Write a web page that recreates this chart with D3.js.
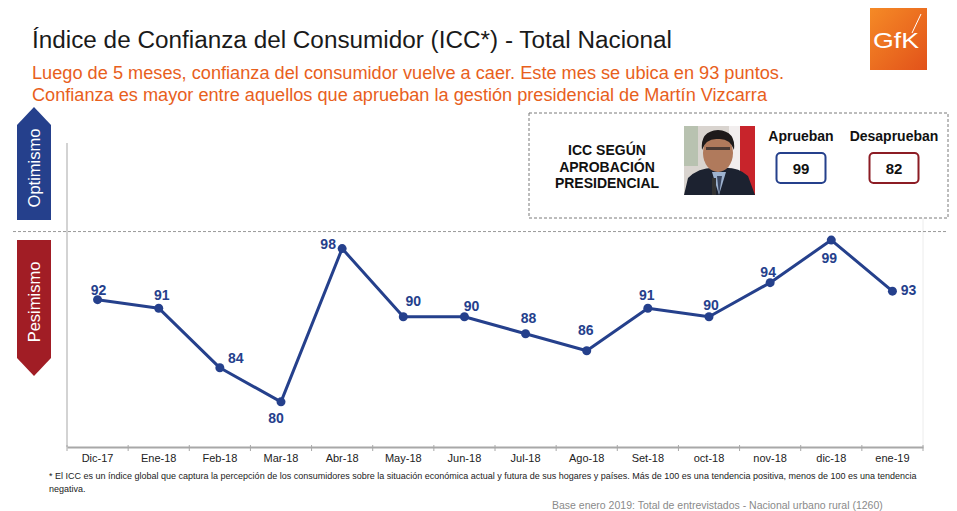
<!DOCTYPE html>
<html>
<head>
<meta charset="utf-8">
<script src="https://cdn.jsdelivr.net/npm/d3@7"></script>
<style>
  body { margin: 0; background: #fff; }
  svg { font-family: "Liberation Sans", Arial, sans-serif; }
</style>
</head>
<body>
<svg id="chart" width="957" height="511"></svg>
<script>
// Daten
const meses = ["Dic-17", "Ene-18", "Feb-18", "Mar-18", "Abr-18", "May-18", "Jun-18",
               "Jul-18", "Ago-18", "Set-18", "oct-18", "nov-18", "dic-18", "ene-19"];
const icc = [92, 91, 84, 80, 98, 90, 90, 88, 86, 91, 90, 94, 99, 93];
const aprobacion = ["Aprueban", "Desaprueban"];
const iccAprobacion = [99, 82];
const umbral = 100;

const titulo = "Índice de Confianza del Consumidor (ICC*) - Total Nacional";
const subtitulo = [
  "Luego de 5 meses, confianza del consumidor vuelve a caer. Este mes se ubica en 93 puntos.",
  "Confianza es mayor entre aquellos que aprueban la gestión presidencial de Martín Vizcarra"
];
const nota = [
  "* El ICC es un índice global que captura la percepción de los consumidores sobre la situación económica actual y futura de sus hogares y países. Más de 100 es una tendencia positiva, menos de 100 es una tendencia",
  "negativa."
];
const base = "Base enero 2019: Total de entrevistados - Nacional urbano rural (1260)";

const azul = "#25408c", rojo = "#a11d25", naranja = "#e8601c";

const svg = d3.select("#chart");

// Skalen
const x = d3.scaleBand().domain(meses).range([67, 923]).padding(0);
const y = d3.scaleLinear().domain([74.7, 110.4]).range([447, 143]);
const cx = m => x(m) + x.bandwidth() / 2;

// Titel
svg.append("text").attr("x", 32).attr("y", 48)
  .attr("font-size", 23).attr("fill", "#1a1a1a")
  .attr("textLength", 640).attr("lengthAdjust", "spacingAndGlyphs").text(titulo);
const subLaenge = [752, 735];
svg.selectAll(".sub").data(subtitulo).enter().append("text")
  .attr("x", 32).attr("y", (d, i) => 79 + i * 21.5)
  .attr("font-size", 17.5).attr("fill", naranja)
  .attr("textLength", (d, i) => subLaenge[i]).attr("lengthAdjust", "spacingAndGlyphs")
  .text(d => d);

// GfK Logo
const grad = svg.append("defs").append("linearGradient").attr("id", "gfk")
  .attr("x1", 0).attr("y1", 0).attr("x2", 1).attr("y2", 1);
grad.append("stop").attr("offset", 0).attr("stop-color", "#f58a26");
grad.append("stop").attr("offset", 1).attr("stop-color", "#e2521a");
svg.append("rect").attr("x", 870).attr("y", 8).attr("width", 57).attr("height", 62).attr("fill", "url(#gfk)");
svg.append("text").attr("x", 873).attr("y", 48).attr("font-size", 22).attr("fill", "#fff")
  .attr("textLength", 46).attr("lengthAdjust", "spacingAndGlyphs").text("GfK");
svg.append("line").attr("x1", 912).attr("y1", 33).attr("x2", 921).attr("y2", 14)
  .attr("stroke", "#fff").attr("stroke-width", 1);

// Optimismo / Pesimismo Pfeile
svg.append("polygon").attr("points", "17,125 34,107 51,125 51,220 17,220").attr("fill", azul);
svg.append("polygon").attr("points", "17,240 51,240 51,358 34,376 17,358").attr("fill", rojo);
svg.append("text").attr("transform", "translate(40,168) rotate(-90)")
  .attr("text-anchor", "middle").attr("font-size", 16.5).attr("fill", "#fff").text("Optimismo");
svg.append("text").attr("transform", "translate(40,302) rotate(-90)")
  .attr("text-anchor", "middle").attr("font-size", 16.5).attr("fill", "#fff").text("Pesimismo");

// Achsen-Rahmen
svg.append("line").attr("x1", 67).attr("x2", 67).attr("y1", 143).attr("y2", 447)
  .attr("stroke", "#c4c4c4").attr("stroke-width", 1.5);
svg.append("line").attr("x1", 923).attr("x2", 923).attr("y1", 143).attr("y2", 447)
  .attr("stroke", "#ececec").attr("stroke-width", 1);

// Linie bei 100
svg.append("line").attr("x1", 13).attr("x2", 948).attr("y1", y(umbral)).attr("y2", y(umbral))
  .attr("stroke", "#9a9a9a").attr("stroke-width", 1).attr("stroke-dasharray", "3,2");

// x-Achse
const xAxis = svg.append("g").attr("transform", "translate(0,447)")
  .call(d3.axisBottom(x).tickSize(0).tickPadding(7));
xAxis.select(".domain").attr("stroke", "#a8a8a8").attr("stroke-width", 2);
xAxis.selectAll("text").attr("font-size", 11).attr("fill", "#222")
  .attr("font-family", "Liberation Sans, Arial, sans-serif");
const grenzen = meses.map(m => x(m)).concat([x.range()[1]]);
xAxis.selectAll(".grenze").data(grenzen).enter().append("line")
  .attr("x1", d => d).attr("x2", d => d).attr("y1", -2).attr("y2", 4)
  .attr("stroke", "#a8a8a8").attr("stroke-width", 1);

// Linie + Punkte
const linie = d3.line().x((d, i) => cx(meses[i])).y(d => y(d));
svg.append("path").datum(icc).attr("d", linie)
  .attr("fill", "none").attr("stroke", azul).attr("stroke-width", 3).attr("stroke-linejoin", "round");
svg.selectAll(".punkt").data(icc).enter().append("circle")
  .attr("cx", (d, i) => cx(meses[i])).attr("cy", d => y(d)).attr("r", 4.5).attr("fill", azul);

// Beschriftungen (Versatz je Punkt)
const versatz = [[1, -5], [3, -8], [16, -5], [-5, 21], [-14, 0], [10, -11], [7, -6],
                 [3, -11], [-1, -16], [-1, -8], [2, -7], [-2, -6], [-2, 23], [16, 4]];
svg.selectAll(".wert").data(icc).enter().append("text")
  .attr("x", (d, i) => cx(meses[i]) + versatz[i][0])
  .attr("y", (d, i) => y(d) + versatz[i][1])
  .attr("text-anchor", "middle").attr("font-size", 14).attr("font-weight", "bold")
  .attr("fill", azul).text(d => d);

// Kasten ICC nach Zustimmung
svg.append("rect").attr("x", 529).attr("y", 113).attr("width", 419).attr("height", 105)
  .attr("fill", "#fff").attr("stroke", "#7a7a7a").attr("stroke-dasharray", "3,2");
["ICC SEGÚN", "APROBACIÓN", "PRESIDENCIAL"].forEach((t, i) => {
  svg.append("text").attr("x", 607).attr("y", 155 + i * 16.5).attr("text-anchor", "middle")
    .attr("font-size", 14).attr("font-weight", "bold").attr("fill", "#111").text(t);
});

// Foto (stilisiert)
const foto = svg.append("g");
foto.append("clipPath").attr("id", "fotoclip").append("rect")
  .attr("x", 684).attr("y", 126).attr("width", 71).attr("height", 69);
const f = foto.append("g").attr("clip-path", "url(#fotoclip)");
f.append("rect").attr("x", 684).attr("y", 126).attr("width", 71).attr("height", 69).attr("fill", "#d9d4cf");
f.append("rect").attr("x", 684).attr("y", 126).attr("width", 14).attr("height", 40).attr("fill", "#b8c2b0");
f.append("rect").attr("x", 740).attr("y", 126).attr("width", 15).attr("height", 69).attr("fill", "#c8242b");
f.append("rect").attr("x", 729).attr("y", 126).attr("width", 11).attr("height", 69).attr("fill", "#f2eeee");
f.append("path").attr("d", "M684,195 L688,178 Q700,166 719,168 Q738,166 748,176 L755,195 Z").attr("fill", "#1c2230");
f.append("path").attr("d", "M712,172 L719,195 L726,172 Z").attr("fill", "#9db2cf");
f.append("path").attr("d", "M717,176 L719,195 L722,176 Z").attr("fill", "#3a4660");
f.append("ellipse").attr("cx", 718).attr("cy", 153).attr("rx", 15).attr("ry", 19).attr("fill", "#b07a5c");
f.append("path").attr("d", "M702,150 Q700,131 718,130 Q736,131 734,150 Q730,138 718,139 Q706,138 702,150 Z").attr("fill", "#1e1a1a");
f.append("rect").attr("x", 706).attr("y", 147).attr("width", 24).attr("height", 3).attr("fill", "#4a3a34");
f.append("rect").attr("x", 712).attr("y", 178).attr("width", 4).attr("height", 17).attr("fill", "#333");

// Aprueban / Desaprueban
const bx = [801, 894], farben = [azul, "#8c1c24"];
aprobacion.forEach((t, i) => {
  svg.append("text").attr("x", bx[i]).attr("y", 141).attr("text-anchor", "middle")
    .attr("font-size", 14).attr("font-weight", "bold").attr("fill", "#111").text(t);
  svg.append("rect").attr("x", bx[i] - 24.5).attr("y", 153).attr("width", 49).attr("height", 30)
    .attr("rx", 4).attr("fill", "#fff").attr("stroke", farben[i]).attr("stroke-width", 2);
  svg.append("text").attr("x", bx[i]).attr("y", 174).attr("text-anchor", "middle")
    .attr("font-size", 15).attr("font-weight", "bold").attr("fill", "#111").text(iccAprobacion[i]);
});

// Fussnoten
svg.selectAll(".nota").data(nota).enter().append("text")
  .attr("x", 49).attr("y", (d, i) => 479 + i * 12.5)
  .attr("font-size", 9).attr("fill", "#222").text(d => d);
svg.append("text").attr("x", 552).attr("y", 509).attr("font-size", 10.5)
  .attr("fill", "#8a8a8a").text(base);
</script>
</body>
</html>
